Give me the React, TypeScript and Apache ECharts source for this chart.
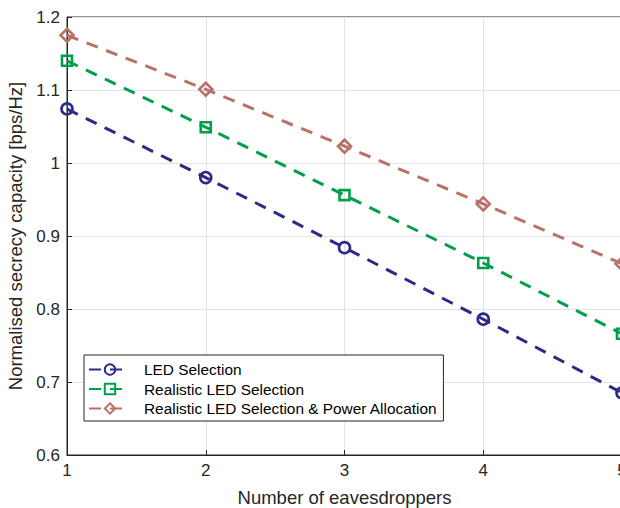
import React, { useEffect, useRef } from "react";
import * as echarts from "echarts";

const xValues = [1, 2, 3, 4, 5];
const ledSelection = [1.074, 0.98, 0.884, 0.786, 0.685];
const realisticLed = [1.14, 1.049, 0.956, 0.863, 0.766];
const realisticPower = [1.175, 1.101, 1.023, 0.944, 0.862];
const seriesNames = [
  "LED Selection",
  "Realistic LED Selection",
  "Realistic LED Selection & Power Allocation",
];
const seriesColors = ["#2B2A86", "#00A04B", "#B87268"];
const seriesSymbols = ["circle", "rect", "diamond"];

export default function App() {
  const ref = useRef<HTMLDivElement>(null);
  useEffect(() => {
    if (!ref.current) return;
    const chart = echarts.init(ref.current, undefined, { renderer: "svg" });
    const datasets = [ledSelection, realisticLed, realisticPower];
    const font = "Liberation Sans, Arial, sans-serif";
    chart.setOption({
      animation: false,
      backgroundColor: "#ffffff",
      textStyle: { fontFamily: font },
      grid: {
        left: 67,
        top: 17,
        right: -2,
        bottom: 53,
        outerBoundsMode: "none",
        containLabel: false,
        show: true,
        borderColor: "#262626",
        borderWidth: 1,
        backgroundColor: "transparent",
      },
      legend: {
        orient: "vertical",
        left: 84,
        top: 355,
        itemWidth: 42,
        itemHeight: 13,
        itemGap: 4.5,
        padding: [7, 6, 5, 4],
        borderColor: "#262626",
        borderWidth: 1,
        backgroundColor: "#ffffff",
        textStyle: { fontSize: 15.4, color: "#000", fontFamily: font, padding: [0, 0, 0, 8] },
        data: seriesNames,
      },
      xAxis: {
        type: "value",
        min: 1,
        max: 5,
        interval: 1,
        name: "Number of eavesdroppers",
        nameLocation: "middle",
        nameGap: 33,
        nameTextStyle: { fontSize: 18.5, color: "#262626" },
        axisLine: { onZero: false, lineStyle: { color: "#262626", width: 1 } },
        axisTick: { inside: true, length: 5, lineStyle: { color: "#262626" } },
        axisLabel: { fontSize: 17, color: "#262626", margin: 7 },
        splitLine: { show: true, lineStyle: { color: "#e3e3e3", width: 1 } },
      },
      yAxis: {
        type: "value",
        min: 0.6,
        max: 1.2,
        interval: 0.1,
        name: "Normalised secrecy capacity [bps/Hz]",
        nameLocation: "middle",
        nameGap: 36,
        nameTextStyle: { fontSize: 18.5, color: "#262626" },
        axisLine: { show: true, onZero: false, lineStyle: { color: "#262626", width: 1 } },
        axisTick: { show: true, inside: true, length: 5, lineStyle: { color: "#262626" } },
        axisLabel: {
          fontSize: 17,
          color: "#262626",
          margin: 7,
          formatter: (v: number) => String(Math.round(v * 10) / 10),
        },
        splitLine: { show: true, lineStyle: { color: "#e3e3e3", width: 1 } },
      },
      series: datasets.map((d, i) => ({
        name: seriesNames[i],
        type: "line",
        data: xValues.map((x, j) => [x, d[j]]),
        symbol: seriesSymbols[i],
        symbolSize: i === 0 ? 11 : i === 1 ? 10 : 13,
        itemStyle: { color: "rgba(255,255,255,0)", borderWidth: 2.6, borderColor: seriesColors[i] },
        lineStyle: { color: seriesColors[i], width: 3, type: [12, 9] },
        z: 3 + i,
      })),
    });
    return () => chart.dispose();
  }, []);
  return (
    <div
      ref={ref}
      style={{ width: 620, height: 508, position: "absolute", left: 0, top: 0 }}
    />
  );
}
